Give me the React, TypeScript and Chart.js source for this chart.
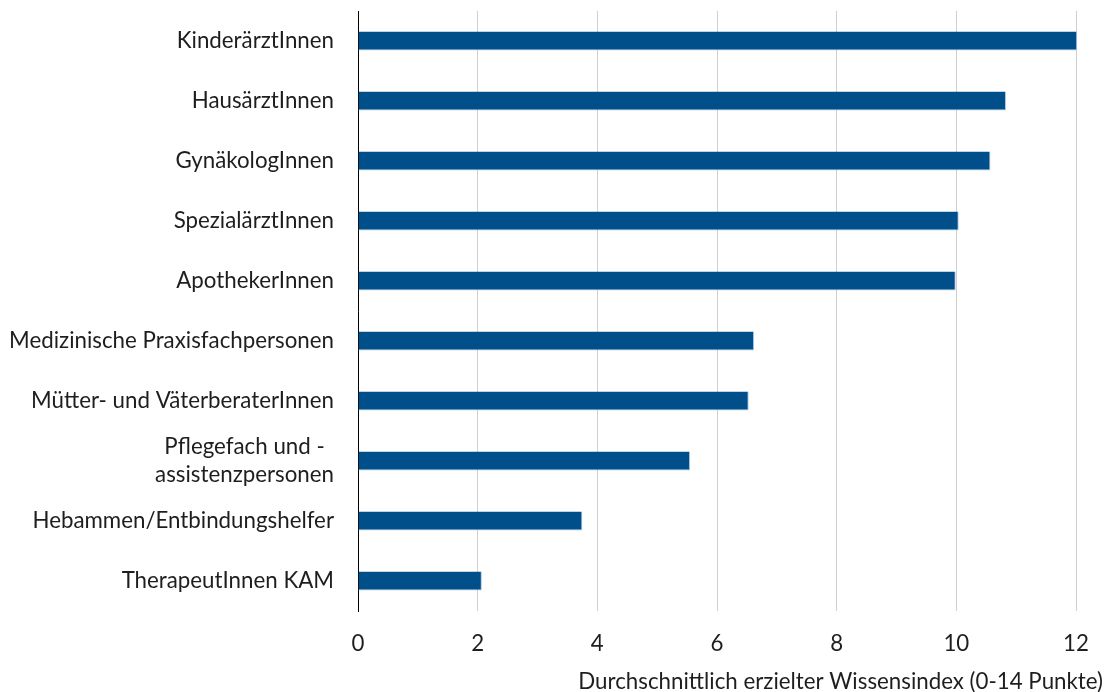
import React, { useEffect, useRef } from "react";
import { Chart, registerables } from "chart.js";

Chart.register(...registerables);

const categories: (string | string[])[] = [
  "KinderärztInnen",
  "HausärztInnen",
  "GynäkologInnen",
  "SpezialärztInnen",
  "ApothekerInnen",
  "Medizinische Praxisfachpersonen",
  "Mütter- und VäterberaterInnen",
  ["Pflegefach und -", "assistenzpersonen"],
  "Hebammen/Entbindungshelfer",
  "TherapeutInnen KAM",
];

const values = [12.02, 10.83, 10.57, 10.04, 9.99, 6.62, 6.53, 5.55, 3.75, 2.07];

const xMin = 0;
const xMax = 12;
const xStep = 2;

const axisTitle = "Durchschnittlich erzielter Wissensindex (0-14 Punkte)";

const FONT_FAMILY = "Lato";
const FONT_SIZE = 22.3;
const TEXT_COLOR = "#1e1e1e";
const BAR_COLOR = "#004F8A";

export default function App() {
  const canvasRef = useRef<HTMLCanvasElement | null>(null);

  useEffect(() => {
    const canvas = canvasRef.current;
    if (!canvas) return;

    const labelPlugin = {
      id: "customLabels",
      afterDraw(chart: any) {
        const ctx = chart.ctx;
        const yScale = chart.scales.y;
        const area = chart.chartArea;
        ctx.save();
        ctx.font = `${FONT_SIZE}px ${FONT_FAMILY}`;
        ctx.fillStyle = TEXT_COLOR;
        ctx.textBaseline = "middle";
        ctx.textAlign = "center";
        const lineH = 27.5;
        categories.forEach((c, i) => {
          const lines = Array.isArray(c) ? c : [c];
          const py = yScale.getPixelForValue(i);
          const maxW = Math.max(...lines.map((l) => ctx.measureText(l).width));
          const cx = area.left - 24 - maxW / 2;
          lines.forEach((l, j) => {
            ctx.fillText(l, cx, py + (j - (lines.length - 1) / 2) * lineH);
          });
        });
        ctx.textAlign = "right";
        ctx.fillText(axisTitle, chart.width - 7, 682);
        ctx.restore();
      },
    };

    const chart = new Chart(canvas, {
      type: "bar",
      data: {
        labels: categories as any,
        datasets: [
          {
            data: values,
            backgroundColor: BAR_COLOR,
            borderColor: "#A9C7E6",
            borderWidth: { top: 0, left: 0, right: 1, bottom: 1 } as any,
            categoryPercentage: 1,
            barPercentage: 0.32,
            clip: false as any,
          },
        ],
      },
      options: {
        indexAxis: "y",
        responsive: true,
        maintainAspectRatio: false,
        animation: false,
        layout: { padding: { top: 11, right: 34, left: 0, bottom: 0 } },
        plugins: {
          legend: { display: false },
          tooltip: { enabled: false },
        },
        scales: {
          x: {
            min: xMin,
            max: xMax,
            ticks: {
              stepSize: xStep,
              color: TEXT_COLOR,
              font: { family: FONT_FAMILY, size: FONT_SIZE },
              padding: 19,
            },
            grid: { color: "#CFCFCF", lineWidth: 1, drawTicks: false },
            border: { display: false },
            afterFit: (s: any) => {
              s.height = 81;
            },
          },
          y: {
            ticks: { display: false },
            grid: { display: false, drawTicks: false },
            border: { display: true, color: "#000000", width: 1 },
            afterFit: (s: any) => {
              s.width = 358;
            },
          },
        },
      },
      plugins: [labelPlugin],
    });

    return () => chart.destroy();
  }, []);

  return (
    <div style={{ position: "absolute", left: 0, top: 0, width: 1110, height: 692, background: "#ffffff" }}>
      <canvas ref={canvasRef} />
    </div>
  );
}
